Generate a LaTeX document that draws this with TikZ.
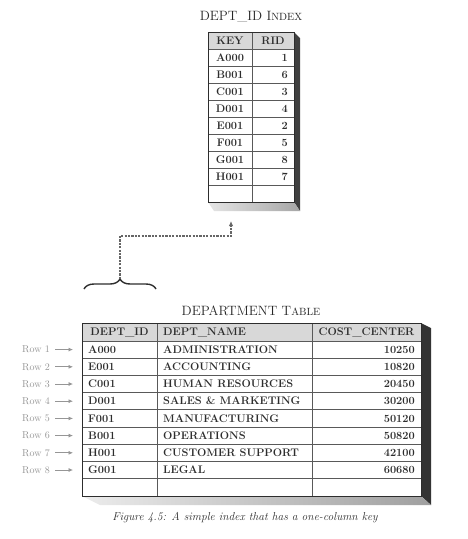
\documentclass[tikz,border=0pt]{standalone}
\usetikzlibrary{arrows.meta,decorations.pathreplacing}

\definecolor{inkgray}{RGB}{45,45,45}
\definecolor{rowgray}{RGB}{150,150,150}
\definecolor{headgray}{RGB}{216,216,216}

\tikzset{
    grid line/.style={draw=black!65, line width=0.7pt},
    box line/.style={draw=inkgray, line width=1pt},
    cell/.style={font=\fontsize{11}{12}\selectfont\bfseries, text=inkgray,
        inner sep=0pt, text height=7.5pt, text depth=0pt},
    title/.style={font=\fontsize{13.5}{15}\selectfont, text=black!85, inner sep=0pt},
    rowlabel/.style={font=\fontsize{10}{12}\selectfont, text=rowgray, inner sep=0pt, anchor=east},
    rowarrow/.style={draw=rowgray, line width=0.7pt, -{Latex[length=4.5pt,width=4pt]}},
    link/.style={draw=black!60, line width=1.2pt, dash pattern=on 2.2pt off 1.2pt,
        -{Latex[length=5pt,width=4.5pt]}},
}

\begin{document}
\begin{tikzpicture}[x=1pt,y=-1pt]
    \useasboundingbox (0,0) rectangle (467,539);

    % index table
    \node[title] (idxtitle) at (251,17) {DEPT\_ID I{\fontsize{10.5}{12}\selectfont NDEX}};
    \fill[black!75] (294,32) -- (300,38) -- (300,211) -- (294,202) -- cycle;
    \shade[left color=gray!20, right color=gray!70] (208,202) -- (214,211) -- (300,211) -- (294,202) -- cycle;
    \fill[white] (208,32) rectangle (294,202);
    \fill[headgray] (208,32) rectangle (294,49);
    \foreach \i in {0,...,8}
        \draw[grid line] (208,{49+17*\i}) -- (294,{49+17*\i});
    \draw[grid line] (252,32) -- (252,202);
    \draw[box line] (208,32) rectangle (294,202);
    \node[cell] (keyh) at (230,40.5) {KEY};
    \node[cell] (ridh) at (273,40.5) {RID};
    \foreach \k/\r [count=\i] in {A000/1,B001/6,C001/3,D001/4,E001/2,F001/5,G001/8,H001/7}{
        \node[cell] (key\i) at (230,{40.5+17*\i}) {\k};
        \node[cell, anchor=east] (rid\i) at (288,{40.5+17*\i}) {\r};
    }

    % department table
    \node[title] (depttitle) at (251,311) {DEPARTMENT T{\fontsize{10.5}{12}\selectfont ABLE}};
    \fill[black!80] (421,323) -- (431,328) -- (431,505) -- (421,496) -- cycle;
    \shade[left color=gray!15, right color=gray!75] (82,496) -- (100,505) -- (431,505) -- (421,496) -- cycle;
    \fill[white] (82,323) rectangle (421,496);
    \fill[headgray] (82,323) rectangle (421,341);
    \foreach \j in {0,...,8}
        \draw[grid line] (82,{341+17.2*\j}) -- (421,{341+17.2*\j});
    \draw[grid line] (157,323) -- (157,496);
    \draw[grid line] (312,323) -- (312,496);
    \draw[box line] (82,323) rectangle (421,496);
    \node[cell] (idh) at (119.5,332) {DEPT\_ID};
    \node[cell, anchor=west] (nameh) at (163,332) {DEPT\_NAME};
    \node[cell] (costh) at (366.5,332) {COST\_CENTER};
    \foreach \d/\n/\c [count=\i] in {A000/ADMINISTRATION/10250,E001/ACCOUNTING/10820,
        C001/HUMAN RESOURCES/20450,D001/SALES \& MARKETING/30200,F001/MANUFACTURING/50120,
        B001/OPERATIONS/50820,H001/CUSTOMER SUPPORT/42100,G001/LEGAL/60680}{
        \node[cell, anchor=west] (id\i) at (88,{341+17.2*(\i-0.5)}) {\d};
        \node[cell, anchor=west] (name\i) at (163,{341+17.2*(\i-0.5)}) {\n};
        \node[cell, anchor=east] (cost\i) at (415,{341+17.2*(\i-0.5)}) {\c};
        \node[rowlabel] (row\i) at (50,{341+17.2*(\i-0.5)}) {Row \i};
        \draw[rowarrow, shorten <=5pt] (row\i.east) -- ([xshift=-15pt]id\i.west);
    }

    % brace and link to the index
    \draw[inkgray, line width=1.4pt, decorate, decoration={brace, amplitude=10pt}] (84,289) -- (156,289);
    \coordinate (bracetip) at (120,279);
    \coordinate (bend) at (231,236);
    \coordinate (idxin) at (231,221);
    \draw[link] (bracetip) |- (bend) -- (idxin);

    \node[font=\fontsize{11.5}{13}\selectfont\itshape, text=inkgray] (caption) at (245,518)
        {Figure 4.5: A simple index that has a one-column key};
\end{tikzpicture}
\end{document}
